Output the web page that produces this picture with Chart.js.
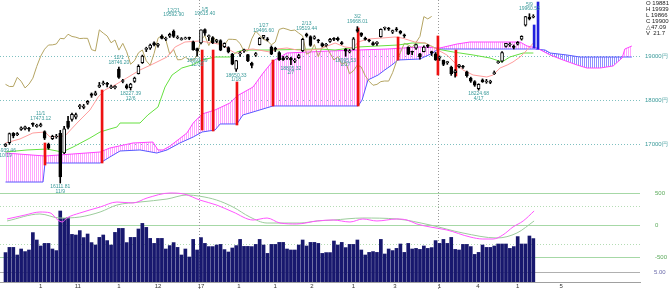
<!DOCTYPE html>
<html>
<head>
<meta charset="utf-8">
<script src="https://cdn.jsdelivr.net/npm/chart.js@4.4.1/dist/chart.umd.min.js"></script>
<style>
  html, body { margin: 0; padding: 0; background: #fff; }
  canvas { display: block; }
</style>
</head>
<body>
<canvas id="chart" width="669" height="291"></canvas>
<script>
// daily candles 2016/10/19 - 2017/5/10
const dates = [
  '10/19','10/20','10/21','10/24','10/25','10/26','10/27','10/28','10/31',
  '11/1','11/2','11/4','11/7','11/8','11/9','11/10','11/11','11/14','11/15','11/16','11/17','11/18','11/21','11/22','11/24','11/25','11/28','11/29','11/30',
  '12/1','12/2','12/5','12/6','12/7','12/8','12/9','12/12','12/13','12/14','12/15','12/16','12/19','12/20','12/21','12/22','12/26','12/27','12/28','12/29','12/30',
  '1/4','1/5','1/6','1/10','1/11','1/12','1/13','1/16','1/17','1/18','1/19','1/20','1/23','1/24','1/25','1/26','1/27','1/30','1/31',
  '2/1','2/2','2/3','2/6','2/7','2/8','2/9','2/10','2/13','2/14','2/15','2/16','2/17','2/20','2/21','2/22','2/23','2/24','2/27','2/28',
  '3/1','3/2','3/3','3/6','3/7','3/8','3/9','3/10','3/13','3/14','3/15','3/16','3/17','3/21','3/22','3/23','3/24','3/27','3/28','3/29','3/30','3/31',
  '4/3','4/4','4/5','4/6','4/7','4/10','4/11','4/12','4/13','4/14','4/17','4/18','4/19','4/20','4/21','4/24','4/25','4/26','4/27','4/28',
  '5/1','5/2','5/8','5/9','5/10'
];
const opens = [
  16950,17030,17240,17210,17330,17340,17350,17460,17400,
  17410,17280,16990,17120,17160,17240,16800,17520,17560,17610,17850,17830,17930,18140,18120,18300,18370,18360,18280,18280,
  18700,18420,18330,18280,18420,18600,18850,19150,19180,19300,19240,19450,19380,19450,19560,19410,19370,19390,19410,19320,19170,
  19300,19600,19440,19420,19330,19350,19210,19190,19040,18700,19050,19120,19030,18840,19020,19260,19420,19390,19200,
  19180,19080,18960,18950,18950,18880,18960,19120,19500,19440,19400,19360,19280,19240,19330,19390,19400,19300,19150,19090,
  19150,19600,19520,19410,19350,19300,19280,19440,19630,19620,19540,19620,19560,19480,19200,19090,19180,19050,19100,19230,19100,19050,
  18950,18900,18850,18750,18620,18760,18760,18640,18500,18420,18260,18460,18410,18400,18600,18850,18880,19220,19250,19220,
  19270,19380,19700,19880,19881
];
const highs = [
  17010,17250,17260,17260,17390,17410,17380,17480,17450,
  17473.12,17300,17020,17200,17220,17310,17400,17630,17700,17700,17900,17900,17990,18160,18200,18400,18430,18400,18340,18330,
  18746.20,18470,18360,18380,18520,18800,19020,19200,19270,19320,19290,19480,19430,19520,19592.90,19460,19420,19430,19430,19340,19180,
  19594,19615.40,19480,19440,19380,19370,19300,19210,19060,18900,19100,19160,19040,18860,19080,19420,19466.60,19420,19230,
  19200,19100,18990,19000,18970,18940,19040,19400,19519.44,19460,19460,19380,19300,19290,19400,19420,19430,19330,19170,19150,
  19420,19668.01,19530,19430,19380,19320,19330,19620,19660,19650,19590,19650,19580,19500,19210,19110,19270,19060,19230,19260,19110,19080,
  19000,18910,18880,18770,18690,18810,18790,18660,18520,18440,18370,18480,18470,18450,18660,18890,19100,19290,19300,19250,
  19330,19460,19900,19960.53,19939
];
const lows = [
  16939.46,16990,17140,17190,17310,17320,17290,17400,17380,
  17390,17100,16880,17100,17130,16111.81,16780,17340,17520,17570,17800,17800,17900,18060,18100,18280,18340,18300,18260,18250,
  18490,18390,18250,18227.39,18400,18590,18830,19100,19150,19230,19200,19390,19350,19420,19420,19390,19360,19380,19370,19130,18993.39,
  19277,19470,19350,19280,19300,19120,19190,19070,18800,18650.33,18990,19080,18870,18730,18990,19250,19390,19340,19030,
  19100,18900,18900,18920,18805.32,18850,18940,19100,19430,19220,19380,19300,19210,19220,19310,19350,19340,19260,18995.53,19070,
  19140,19540,19440,19360,19320,19240,19240,19430,19590,19580,19510,19560,19500,19420,19030,19030,19150,18930,19090,19190,19010,18900,
  18900,18780,18810,18560,18520,18730,18720,18520,18400,18310,18224.68,18400,18380,18370,18580,18830,18860,19200,19220,19160,
  19250,19360,19680,19820,19866
];
const closes = [
  16998,17235,17184,17234,17365,17391,17336,17446,17425,
  17442,17134,16905,17177,17171,16251,17344,17374,17672,17668,17862,17862,17967,18106,18162,18333,18381,18356,18307,18308,
  18513,18426,18274,18360,18496,18765,18996,19155,19250,19253,19273,19401,19391,19494,19444,19427,19396,19403,19401,19145,19114,
  19594,19520,19454,19301,19364,19134,19287,19095,18813,18894,19072,19137,18891,18787,19057,19402,19467,19368,19041,
  19148,18914,18918,18976,18910,18907,19007,19378,19459,19238,19437,19347,19234,19251,19381,19379,19371,19283,19107,19118,
  19393,19564,19469,19379,19344,19254,19318,19604,19633,19609,19577,19590,19521,19455,19041,19085,19262,18985,19202,19217,19063,18909,
  18983,18810,18861,18597,18664,18797,18747,18552,18426,18335,18355,18418,18432,18430,18620,18875,19079,19289,19251,19196,
  19310,19445,19895,19843,19900
];
// volume, 億株
const volumes = [
  14.7,17.3,17.3,13.5,16.5,15.2,16,24.7,21,18,
  19.3,19.3,16.5,15.7,35.5,31.8,32.2,23.8,23.5,25.7,
  22.2,24,19.7,18.5,22.3,23.5,20.7,18.5,24.8,26.8,
  26.8,19.7,22.3,22.3,26.5,29.3,27.3,21.8,19.3,21.8,
  21.8,16.5,18.2,19.7,17.3,13.5,16.5,12.5,21.3,16,
  22.2,19.3,17.7,17.7,18.5,18.8,16.2,15,17,18.2,
  21.3,17.8,17.8,17.7,18.8,21.3,18.5,14.3,18.8,18.8,
  19.8,19.8,16.5,16,16,18.5,21,18,19.8,19.8,
  19.3,14.3,14.7,
  14.7,20.5,18.5,19.8,17.2,18.8,18.8,21,16,13.5,
  14.8,15.2,14.8,21.3,14,16.5,15.7,16.8,19,14.8,
  19.3,16.5,16.8,16.3,18,16.8,17.2,20.7,19.3,21.3,
  19.3,22.3,16.3,16,18.8,18.8,17.7,13.8,14.8,18.5,
  17.3,17.3,18,19,19,19,16.8,17.7,22.7,19,
  19,23,21.7
];

// ichimoku lines (bar index, price)
const tenkanX = [0,3.7,7,10.1,11.4,15.2,18.3,21.6,23.7,25.4,28,31,34.4,37.7,41.3,43.4,45.9,49.7,53.1,55.6,57.4,58.7,60,60.7,63.3,67.6,69.4,72,74.6,77.9,80.4,81.7,84.3,86.8,88.9,90.2,92.7,96.3,99.6,101.4,104.7,107.3,109.3,110.6,112.9,115.5,117,119.6,123.1,124.7,126.5,128.3,129.8,131.6,133.4,135];
const tenkanY = [17023,17114,17250,17273,17159,17182,17477,17773,18068,18227,18341,18500,18682,18818,18977,19205,19318,19341,19295,19250,19136,19068,19068,19136,19159,19091,19159,19182,19136,19136,19159,19205,19295,19205,19182,19318,19386,19409,19432,19409,19318,19295,19205,19136,19023,18795,18682,18568,18523,18568,18727,18795,18864,18977,19136,19295];
const kijunX = [0,5.5,10.6,14.5,17.3,21.6,24.2,26.7,28.5,29.3,34.4,36.4,39,40.8,42.6,45.1,47.7,50.3,53.6,57.4,59.2,60.7,67.6,80.4,84.3,90.2,100.4,104,107.3,110.4,114.5,119.6,123.9,127,129,132.4,135];
const kijunY = [16818,16864,16886,16818,16932,17136,17273,17341,17386,17477,17477,17659,17841,18295,18568,18727,18795,18909,18977,18977,19091,19136,19136,19159,19136,19205,19250,19295,19295,19159,19091,19023,18955,18864,18977,19068,19068];
const spanAX = [0,10.1,24.2,26.7,32.6,37.7,39,40.3,42.1,46.4,48,50.3,53.6,57.4,59.2,63.3,65.9,68.4,72,83,97.6,106,111.1,115.5,118.8,131.6,133.4,135.9,139.3,142.6,146.2,148.7,152.1,155.4,157.7,158.4,160.2];
const spanAY = [16795,16727,16818,16909,17023,17045,16864,16864,16955,17250,17477,17682,17773,17932,18091,18295,18614,18886,19068,19114,19159,19205,19182,19273,19318,19318,19227,19182,19023,18909,18795,18727,18727,18773,18955,19159,19227];
const spanBX = [0,9.6,10.1,24.2,26.7,29.3,34.4,38.7,41.3,44.6,48,50.3,53.6,54.9,59.2,60.7,63.3,68.4,90.2,91.2,92.7,95.3,97,98.8,100.4,106,109.3,110.6,135.4,138,139.3,143.6,146.9,160.2];
const spanBY = [16136,16136,16568,16568,16705,16841,16864,16795,16864,17023,17159,17273,17318,17455,17455,17659,17727,17864,17864,18000,18455,18568,18682,18795,18909,18932,19068,19159,19159,19136,19068,19023,18977,18977];

// signal bars
const redX = [10.1,24.7,50.3,53.1,59.2,68.4,90.2,100.4,110.6,115.2];
const redTop = [17023,18227,19136,19136,18409,18909,19636,19432,19455,19136];
const redBottom = [16523,16568,17318,17295,17432,17864,17864,18909,18568,18545];
const blueX = [135.2,136.2];
const blueTop = [19705,20227];
const blueBottom = [19182,19159];

// MACD panel
const macdX = [0.4,5,8.8,11.4,13.4,14.5,15.7,19,24.2,28.5,32.6,36.2,42.1,45.9,49.7,54,58.2,63.3,66.9,70.2,74.5,79.7,83.8,88.1,91.4,95,100.1,102.7,105.2,108.6,112.9,118.8,122.1,124.7,127.2,129.8,132.4,135.2];
const macdY = [94,156,203,190,78,47,110,187,281,359,344,422,500,480,390,312,203,78,109,31,16,63,78,47,94,63,94,78,16,-31,-78,-187,-219,-219,-156,-31,63,219];
const signalX = [0.4,8.8,13.9,19,24.2,28.5,34.4,41.3,46.4,49.7,54,58.2,62.5,66.9,75.3,79.7,83.8,91.4,100.1,108.6,117,125.7,130.8,135.2];
const signalY = [63,172,109,125,203,312,359,406,469,450,390,281,125,31,31,63,78,109,94,0,-125,-203,-125,63];

// axis ticks and marks
const xTickPos = [9,18.5,29,39,50,59.7,69,78.4,89,99.6,111,120.8,131,142.1];
const xTickText = ['1','11','1','12','17','1','1','2','1','3','1','4','1','5'];
const priceTicks = [17000,18000,19000];
const markHigh = [9,29,43,51,66,77,90,134];
const markLow = [0,14,32,49,59,73,87,121];
const legendLines = ['O 19881','H 19939','L 19866','C 19900','△47.09','V  21.7'];

const markLift = {43: 10, 51: 10};
const canvas = document.getElementById('chart');
const ctx = canvas.getContext('2d');

function stripes(color) {
  const c = document.createElement('canvas');
  c.width = 2; c.height = 1;
  const g = c.getContext('2d');
  g.fillStyle = color;
  g.fillRect(0, 0, 1, 1);
  return ctx.createPattern(c, 'repeat');
}

const pts = (xs, ys) => xs.map((x, i) => ({x, y: ys[i]}));
const idx = dates.map((d, i) => i);

const overlay = {
  id: 'overlay',
  beforeDatasetsDraw(chart) {
    const {ctx, chartArea: a, scales: {x, yMacd, yVol}} = chart;
    ctx.save();
    ctx.lineWidth = 1;
    const hline = (y, color, dash) => {
      y = Math.round(y) + 0.5;
      ctx.strokeStyle = color;
      ctx.setLineDash(dash);
      ctx.beginPath(); ctx.moveTo(a.left, y); ctx.lineTo(a.right, y); ctx.stroke();
    };
    hline(yMacd.getPixelForValue(500), '#a6d8a6', []);
    hline(yMacd.getPixelForValue(300), '#b4dcb4', [1, 2]);
    hline(yMacd.getPixelForValue(0), '#a6d8a6', []);
    hline(yMacd.getPixelForValue(-300), '#b4dcb4', [1, 2]);
    hline(yMacd.getPixelForValue(-500), '#a6d8a6', []);
    hline(yVol.getPixelForValue(5), '#b0b0b0', []);
    ctx.strokeStyle = '#999';
    ctx.setLineDash([1, 2]);
    [49.5, 110.5].forEach(v => {
      const px = Math.round(x.getPixelForValue(v)) + 0.5;
      ctx.beginPath(); ctx.moveTo(px, 0); ctx.lineTo(px, chart.height); ctx.stroke();
    });
    ctx.restore();
  },
  afterDatasetsDraw(chart) {
    const {ctx, scales: {x, y}} = chart;
    ctx.save();
    ctx.font = '5px "Liberation Sans", Arial, sans-serif';
    ctx.fillStyle = '#3a9a9a';
    ctx.textAlign = 'center';
    ctx.textBaseline = 'middle';
    markHigh.forEach(i => {
      const px = x.getPixelForValue(i);
      const py = y.getPixelForValue(highs[i]) - (markLift[i] || 0);
      ctx.fillText(highs[i].toFixed(2), px, py - 5);
      ctx.fillText(dates[i], px, py - 9.5);
    });
    markLow.forEach(i => {
      const px = x.getPixelForValue(i);
      const py = y.getPixelForValue(lows[i]);
      ctx.fillText(lows[i].toFixed(2), px, py + 4);
      ctx.fillText(dates[i], px, py + 8.5);
    });
    ctx.restore();
  },
  afterDraw(chart) {
    const {ctx, chartArea: a, scales: {yMacd, yVol}} = chart;
    ctx.save();
    ctx.font = '6px "Liberation Sans", Arial, sans-serif';
    ctx.textBaseline = 'middle';
    ctx.textAlign = 'left';
    ctx.fillStyle = '#5aaa5a';
    [500, 0, -500].forEach(v => ctx.fillText(String(v), a.right + 15, yMacd.getPixelForValue(v)));
    ctx.fillStyle = '#6a6aaa';
    ctx.fillText('5.00', a.right + 14, yVol.getPixelForValue(5));
    ctx.fillStyle = '#222';
    legendLines.forEach((t, i) => ctx.fillText(t, a.right + 6, 3 + i * 6));
    ctx.restore();
  }
};

new Chart(ctx, {
  type: 'line',
  data: {
    datasets: [
      {
        type: 'bar', label: 'body', yAxisID: 'y', order: 0, grouped: false,
        data: idx.map(i => ({x: i, y: [opens[i], closes[i]]})),
        backgroundColor: c => closes[c.dataIndex] >= opens[c.dataIndex] ? '#ffffff' : '#000000',
        borderColor: '#000', borderWidth: 1, borderSkipped: false,
        barThickness: 3, minBarLength: 1
      },
      {
        type: 'bar', label: 'wick', yAxisID: 'y', order: 1, grouped: false,
        data: idx.map(i => ({x: i, y: [lows[i], highs[i]]})),
        backgroundColor: '#000', barThickness: 1
      },
      {
        type: 'bar', label: 'red', yAxisID: 'y', order: 2, grouped: false,
        data: redX.map((v, i) => ({x: v, y: [redBottom[i], redTop[i]]})),
        backgroundColor: '#ee1111', barThickness: 2
      },
      {
        type: 'bar', label: 'blue', yAxisID: 'y', order: 2, grouped: false,
        data: blueX.map((v, i) => ({x: v, y: [blueBottom[i], blueTop[i]]})),
        backgroundColor: '#2020dd', barThickness: 2
      },
      {
        label: 'tenkan', yAxisID: 'y', order: 3,
        data: pts(tenkanX, tenkanY), borderColor: '#ff9c9c', borderWidth: 1, pointRadius: 0
      },
      {
        label: 'kijun', yAxisID: 'y', order: 4,
        data: pts(kijunX, kijunY), borderColor: '#66e040', borderWidth: 1, pointRadius: 0
      },
      {
        label: 'chikou', yAxisID: 'y', order: 5,
        data: closes.slice(26).map((c, k) => ({x: k, y: c})),
        borderColor: '#b4a462', borderWidth: 1, pointRadius: 0
      },
      {
        label: 'spanA', yAxisID: 'y', order: 6,
        data: pts(spanAX, spanAY), borderColor: '#ff44ff', borderWidth: 1, pointRadius: 0,
        fill: {target: 8, above: stripes('#ffa6ff'), below: stripes('#9090ff')}
      },
      {
        label: 'spanB', yAxisID: 'y', order: 7,
        data: pts(spanBX, spanBY), borderColor: '#5a5aff', borderWidth: 1, pointRadius: 0
      },
      {
        label: 'macd', yAxisID: 'yMacd', order: 8,
        data: pts(macdX, macdY), borderColor: '#ff55ff', borderWidth: 1, pointRadius: 0,
        cubicInterpolationMode: 'monotone'
      },
      {
        label: 'signal', yAxisID: 'yMacd', order: 9,
        data: pts(signalX, signalY), borderColor: '#9ccc9c', borderWidth: 1, pointRadius: 0,
        cubicInterpolationMode: 'monotone'
      },
      {
        type: 'bar', label: 'volume', yAxisID: 'yVol', order: 10, grouped: false,
        data: idx.map(i => ({x: i, y: volumes[i]})),
        backgroundColor: '#18186e', barThickness: 3
      }
    ]
  },
  options: {
    responsive: false,
    animation: false,
    events: [],
    layout: {padding: 0},
    plugins: {
      legend: {display: false},
      tooltip: {enabled: false},
      filler: {drawTime: 'beforeDatasetsDraw'}
    },
    scales: {
      x: {
        type: 'linear', min: -1.407, max: 162.28, offset: false,
        grid: {display: false, drawTicks: false},
        border: {color: '#a0a0a0'},
        ticks: {
          autoSkip: false, maxRotation: 0, padding: 1, color: '#333',
          font: {size: 6, family: '"Liberation Sans", Arial, sans-serif'},
          callback: (v, i) => xTickText[i]
        },
        afterBuildTicks: s => { s.ticks = xTickPos.map(v => ({value: v})); },
        afterFit: s => { s.height = 9; s.paddingLeft = 0; s.paddingRight = 0; }
      },
      y: {
        position: 'right', min: 13863.64, max: 20272.73,
        grid: {color: '#7fc0c0', drawTicks: false},
        border: {display: false, dash: [1, 2]},
        ticks: {
          padding: 5, color: '#3a9a9a',
          font: {size: 6, family: '"Liberation Sans", Arial, sans-serif'},
          callback: v => v + '円'
        },
        afterBuildTicks: s => { s.ticks = priceTicks.map(v => ({value: v})); },
        afterFit: s => { s.width = 29; s.paddingTop = 0; s.paddingBottom = 0; }
      },
      yMacd: {display: false, min: -890.625, max: 3515.625},
      yVol: {display: false, min: 0, max: 141}
    }
  },
  plugins: [overlay]
});
</script>
</body>
</html>
